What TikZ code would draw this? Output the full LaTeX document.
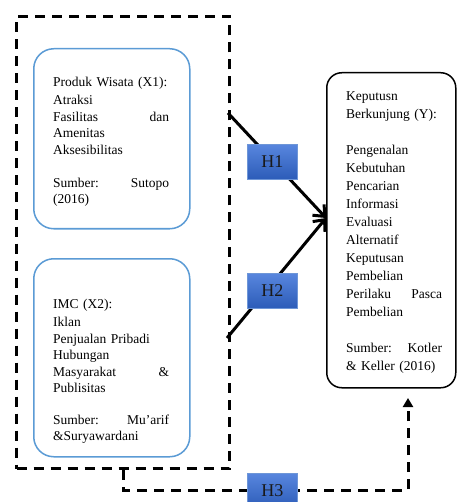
\documentclass[tikz,border=0pt]{standalone}
\usepackage{fontspec}
\setmainfont{Liberation Serif}
\usetikzlibrary{arrows.meta}
\definecolor{boxblue}{RGB}{91,155,213}
\definecolor{htop}{RGB}{88,134,222}
\definecolor{hbot}{RGB}{44,92,184}
\definecolor{hborder}{RGB}{110,150,215}
\begin{document}
\begin{tikzpicture}[x=1pt,y=-1pt,
  hbox/.style={draw=hborder, line width=0.8pt, top color=htop, bottom color=hbot,
    minimum width=50pt, minimum height=35pt, inner sep=0pt, anchor=north west,
    font=\fontsize{18}{18}\selectfont, text=black!90},
  xbox/.style={draw=boxblue, line width=1.5pt, rounded corners=20pt, inner sep=0pt,
    anchor=north west, minimum width=156pt, fill=white},
  ybox/.style={draw=black, line width=1.5pt, rounded corners=15pt, inner sep=0pt,
    anchor=north west, fill=white},
  grpbox/.style={draw=black, dash pattern=on 10pt off 7pt, line width=3pt, inner sep=0pt,
    anchor=north west},
  dline/.style={draw=black, dash pattern=on 10pt off 7pt, line width=3pt},
  arr/.style={draw=black, line width=3pt, -{Straight Barb[length=9pt,width=16pt]}},
  ltxt/.style={inner sep=0pt, anchor=base west, align=left, text width=116pt,
    font=\fontsize{13.5}{16.5}\selectfont},
  rtxt/.style={inner sep=0pt, anchor=base west, align=left, text width=96pt,
    font=\fontsize{13.5}{18}\selectfont}
]
\useasboundingbox (0,0) rectangle (456,502);

% dashed group
\node[grpbox, minimum width=213pt, minimum height=452pt] (grp) at (15,15) {};

% H3 dashed connector
\coordinate (c1) at (123,490);
\coordinate (c2) at (408,490);
\coordinate (yt) at (408,398);
\draw[dline, -{Triangle[length=9pt,width=10pt]}] (grp.south -| c1) -- (c1) -- (c2) -- (yt);

% solid arrows
\coordinate (s1) at (228,113);
\coordinate (s2) at (227,338);
\coordinate (yin) at (326,218);
\draw[arr] (s1) -- (yin);
\draw[arr] (s2) -- (yin);

% boxes
\node[xbox, minimum height=180pt] (x1) at (33,48) {};
\node[xbox, minimum height=198pt] (x2) at (33,258) {};
\node[ybox, minimum width=129pt, minimum height=315pt] (Y) at (326,72) {};

\node[ltxt] (t1) at (53,87) {Produk Wisata (X1):\\[1.5pt]
Atraksi\\
Fasilitas\hfill dan\\
Amenitas\\
Aksesibilitas\\[16.5pt]
Sumber:\hfill Sutopo\\
(2016)};

\node[ltxt] (t2) at (53,308) {IMC (X2):\\[2pt]
Iklan\\
Penjualan Pribadi\\
Hubungan\\
Masyarakat\hfill \&\\
Publisitas\\[15.5pt]
Sumber:\hfill Mu’arif\\[-1pt]
\&Suryawardani};

\node[rtxt] (ty) at (346,101) {Keputusn\\
Berkunjung (Y):\\[18pt]
Pengenalan\\
Kebutuhan\\
Pencarian\\
Informasi\\
Evaluasi\\
Alternatif\\
Keputusan\\
Pembelian\\
Perilaku\hfill Pasca\\
Pembelian\\[18pt]
Sumber:\hfill Kotler\\
\& Keller (2016)};

% hypothesis labels
\node[hbox] (h1) at (247,144) {H1};
\node[hbox] (h2) at (247,273) {H2};
\node[hbox] (h3) at (247,473) {H3};
\end{tikzpicture}
\end{document}
